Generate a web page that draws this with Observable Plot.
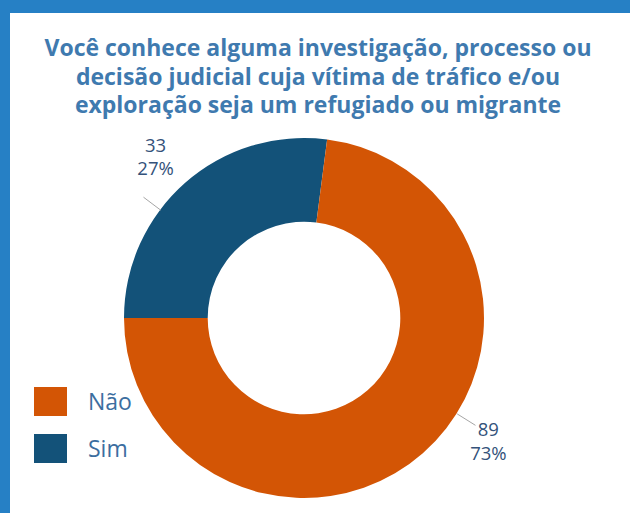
<!DOCTYPE html>
<html>
<head>
<meta charset="utf-8">
<script src="https://cdn.jsdelivr.net/npm/d3@7"></script>
<script src="https://cdn.jsdelivr.net/npm/@observablehq/plot@0.6"></script>
<style>
  html, body { margin: 0; padding: 0; background: #fff; }
  #frame { position: relative; width: 630px; height: 513px; overflow: hidden; background: #fff; }
  #bt { position: absolute; left: 0; top: 0; width: 630px; height: 13px; background: #2680c5; }
  #bl { position: absolute; left: 0; top: 0; width: 10px; height: 513px; background: #2680c5; }
  #title { position: absolute; left: 10px; top: 33px; width: 616px; text-align: center;
    font-family: "Open Sans", sans-serif; font-weight: 700; font-size: 23px; line-height: 28.5px;
    color: #3f7aaf; letter-spacing: 0px; white-space: nowrap; }
  #chart { position: absolute; left: 0; top: 0; }
  .lg { position: absolute; left: 34px; display: flex; align-items: center;
    font-family: "Open Sans", sans-serif; font-size: 23px; color: #3c6e9f; }
  .lg .sw { width: 33px; height: 29px; margin-right: 21px; }
</style>
</head>
<body>
<div id="frame">
  <div id="chart"></div>
  <div id="bt"></div>
  <div id="bl"></div>
  <div id="title">Você conhece alguma investigação, processo ou<br>decisão judicial cuja vítima de tráfico e/ou<br>exploração seja um refugiado ou migrante</div>
</div>
<script>
// ---- data ----
const categories = ["Não", "Sim"];
const counts = [89, 33];
const colors = ["#d35505", "#135279"];
const pieOrder = ["Sim", "Não"]; // drawing order, clockwise from 9 o'clock

// ---- layout ----
const layout = {
  innerRatio: 0.535,
  startAngle: -Math.PI / 2,
  leaderAngle: { "Sim": -53, "Não": 122 },
  textAngle: { "Sim": -42.5, "Não": 123.5 },
  leaderR: [1.0, 1.12],
  textR: { "Sim": 1.225, "Não": 1.225 }
};

const total = d3.sum(counts);
const rows = categories.map((c, i) => ({
  cat: c, value: counts[i], color: colors[i],
  label: `${counts[i]}\n${Math.round(counts[i] / total * 100)}%`
}));
const ordered = pieOrder.map(c => rows.find(r => r.cat === c));
const arcs = d3.pie().sort(null).value(d => d.value).startAngle(layout.startAngle)(ordered);

const rad = a => a * Math.PI / 180;
const polar = (angDeg, r) => [r * Math.sin(rad(angDeg)), r * Math.cos(rad(angDeg))];

const leaders = rows.map(r => {
  const [x1, y1] = polar(layout.leaderAngle[r.cat], layout.leaderR[0]);
  const [x2, y2] = polar(layout.leaderAngle[r.cat], layout.leaderR[1]);
  return { x1, y1, x2, y2 };
});
const labels = rows.map(r => {
  const [x, y] = polar(layout.textAngle[r.cat], layout.textR[r.cat]);
  return { x, y, label: r.label };
});

function donut(index, scales, values, dimensions) {
  const cx = scales.x(0), cy = scales.y(0);
  const R = scales.x(1) - scales.x(0);
  const arcGen = d3.arc().outerRadius(R).innerRadius(R * layout.innerRatio);
  const g = d3.create("svg:g").attr("transform", `translate(${cx},${cy})`);
  g.selectAll("path").data(arcs).join("path")
    .attr("d", arcGen)
    .attr("fill", d => d.data.color);
  return g.node();
}

const chart = Plot.plot({
  width: 630,
  height: 513,
  marginLeft: 124,
  marginRight: 146,
  marginTop: 138,
  marginBottom: 15,
  x: { domain: [-1, 1], axis: null },
  y: { domain: [-1, 1], axis: null },
  style: { background: "transparent", overflow: "visible" },
  marks: [
    donut,
    Plot.link(leaders, { x1: "x1", y1: "y1", x2: "x2", y2: "y2", stroke: "#a6a6a6", strokeWidth: 1 }),
    Plot.text(labels, { x: "x", y: "y", text: "label", fontSize: 18.5, lineHeight: 1.28,
      fill: "#34527a", fontFamily: "Open Sans, sans-serif", textAnchor: "middle" })
  ]
});
document.getElementById("chart").appendChild(chart);

// legend
const frame = document.getElementById("frame");
const legendTops = [385, 432];
rows.forEach((r, i) => {
  const d = document.createElement("div");
  d.className = "lg";
  d.style.top = legendTops[i] + "px";
  d.innerHTML = `<div class="sw" style="background:${r.color}"></div><span>${r.cat}</span>`;
  frame.appendChild(d);
});
</script>
</body>
</html>
